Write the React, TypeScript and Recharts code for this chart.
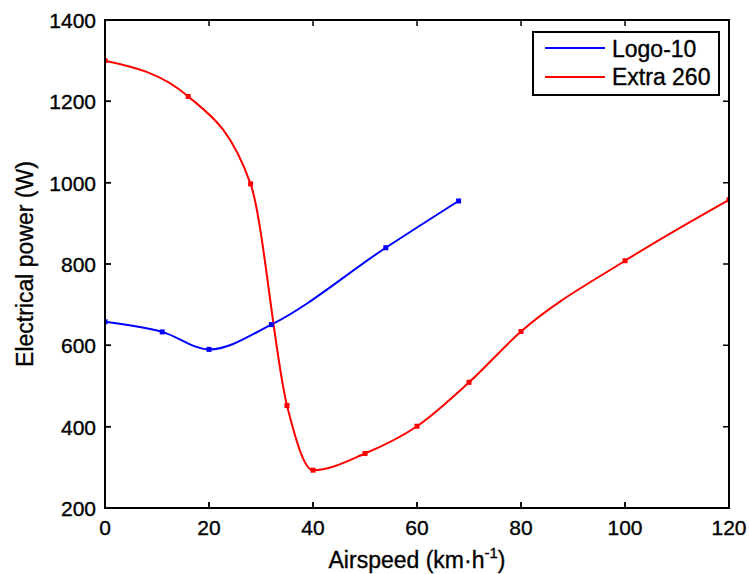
import React from 'react';
import { LineChart, Line, XAxis, YAxis } from 'recharts';

const logoSpeed = [0, 11, 20, 32, 54, 68];
const logoPower = [658, 633, 590, 651, 840, 955];
const extraSpeed = [0, 16, 28, 35, 40, 50, 60, 70, 80, 100, 120];
const extraPower = [1300, 1212, 997, 452, 293, 334, 401, 509, 634, 808, 958];
const xTicks = [0, 20, 40, 60, 80, 100, 120];
const yTicks = [200, 400, 600, 800, 1000, 1200, 1400];

const logoData = logoSpeed.map((s, i) => ({ speed: s, power: logoPower[i] }));
const extraData = extraSpeed.map((s, i) => ({ speed: s, power: extraPower[i] }));

const FONT = '"Liberation Sans", Arial, sans-serif';
const TL = 6;
const TXT = { fontFamily: FONT, fill: '#000', stroke: '#000', strokeWidth: 0.35 };

const W = 749;
const H = 574;
const M = { top: 20, right: 20, left: 105, bottom: 66 };
const PLOT_TOP = M.top;
const PLOT_RIGHT = W - M.right;
const PLOT_LEFT = M.left;
const PLOT_BOTTOM = H - M.bottom;
const X_DOMAIN = [0, 120];
const Y_DOMAIN = [200, 1400];

const BottomTick = (p: any) => (
  <text x={p.x} y={PLOT_BOTTOM + 27} textAnchor="middle" fontSize={21} {...TXT}>
    {p.payload.value}
  </text>
);
const LeftTick = (p: any) => (
  <text x={PLOT_LEFT - 9} y={p.y + 8} textAnchor="end" fontSize={21} {...TXT}>
    {p.payload.value}
  </text>
);

const squareDot = (color: string) => (p: any) => (
  <rect key={p.index} x={p.cx - 2.5} y={p.cy - 2.5} width={5} height={5} fill={color} />
);

const XLabel = () => (
  <text x={(PLOT_LEFT + PLOT_RIGHT) / 2} y={568} textAnchor="middle" fontSize={23} {...TXT}>
    Airspeed (km·h
    <tspan dy={-10} fontSize={15}>-1</tspan>
    <tspan dy={10}>)</tspan>
  </text>
);

const YLabel = () => {
  const x = 33;
  const cy = (PLOT_TOP + PLOT_BOTTOM) / 2;
  return (
    <text x={x} y={cy} transform={`rotate(-90 ${x} ${cy})`} textAnchor="middle" fontSize={23} {...TXT}>
      Electrical power (W)
    </text>
  );
};

const axisLineStyle = { stroke: '#000', strokeWidth: 2 };
const tickLineStyle = { stroke: '#000', strokeWidth: 1.5 };

// box frame with inward ticks on all four sides (axis decoration, MATLAB "box on")
const xPos = (t: number) => PLOT_LEFT + ((t - X_DOMAIN[0]) / (X_DOMAIN[1] - X_DOMAIN[0])) * (PLOT_RIGHT - PLOT_LEFT);
const yPos = (t: number) => PLOT_BOTTOM - ((t - Y_DOMAIN[0]) / (Y_DOMAIN[1] - Y_DOMAIN[0])) * (PLOT_BOTTOM - PLOT_TOP);
const frameTicks =
  xTicks.map((t) => `M${xPos(t)},${PLOT_TOP}V${PLOT_TOP + TL}M${xPos(t)},${PLOT_BOTTOM}V${PLOT_BOTTOM - TL}`).join('') +
  yTicks.map((t) => `M${PLOT_LEFT},${yPos(t)}H${PLOT_LEFT + TL}M${PLOT_RIGHT},${yPos(t)}H${PLOT_RIGHT - TL}`).join('');

export default function App() {
  return (
    <div style={{ position: 'absolute', left: 0, top: 0, width: W, height: H, background: '#fff' }}>
      <LineChart width={W} height={H} margin={M}>
        <XAxis
          xAxisId="b"
          dataKey="speed"
          type="number"
          domain={X_DOMAIN}
          ticks={xTicks}
          allowDataOverflow
          tickSize={TL}
          tickMargin={0}
          mirror
          tickLine={tickLineStyle}
          axisLine={axisLineStyle}
          tick={BottomTick}
          interval={0}
          label={<XLabel />}
        />
        <YAxis
          yAxisId="l"
          type="number"
          domain={Y_DOMAIN}
          ticks={yTicks}
          allowDataOverflow
          tickSize={TL}
          tickMargin={0}
          mirror
          tickLine={tickLineStyle}
          axisLine={axisLineStyle}
          tick={LeftTick}
          interval={0}
          label={<YLabel />}
        />
        <Line
          xAxisId="b"
          yAxisId="l"
          data={logoData}
          dataKey="power"
          type="monotone"
          stroke="#0000ff"
          strokeWidth={2}
          dot={squareDot('#0000ff')}
          activeDot={false}
          isAnimationActive={false}
        />
        <Line
          xAxisId="b"
          yAxisId="l"
          data={extraData}
          dataKey="power"
          type="monotone"
          stroke="#ff0000"
          strokeWidth={2}
          dot={squareDot('#ff0000')}
          activeDot={false}
          isAnimationActive={false}
        />
      </LineChart>
      <svg width={W} height={H} style={{ position: 'absolute', left: 0, top: 0, pointerEvents: 'none' }}>
        <rect
          x={PLOT_LEFT}
          y={PLOT_TOP}
          width={PLOT_RIGHT - PLOT_LEFT}
          height={PLOT_BOTTOM - PLOT_TOP}
          fill="none"
          stroke="#000"
          strokeWidth={2}
        />
        <path d={frameTicks} stroke="#000" strokeWidth={1.5} fill="none" />
      </svg>
      <svg width={188} height={65} style={{ position: 'absolute', left: 532, top: 31 }}>
        <rect x={1} y={1} width={186} height={63} fill="#fff" stroke="#000" strokeWidth={2} />
        <line x1={13} y1={17} x2={73} y2={17} stroke="#0000ff" strokeWidth={2} />
        <line x1={13} y1={46} x2={73} y2={46} stroke="#ff0000" strokeWidth={2} />
        <text x={80} y={26} fontSize={23} {...TXT}>Logo-10</text>
        <text x={80} y={54} fontSize={23} {...TXT}>Extra 260</text>
      </svg>
    </div>
  );
}
